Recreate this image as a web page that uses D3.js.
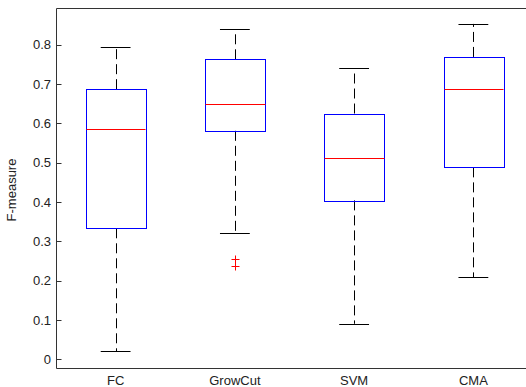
<!DOCTYPE html>
<html>
<head>
<meta charset="utf-8">
<script src="https://cdn.jsdelivr.net/npm/d3@7"></script>
<style>
  body { margin: 0; background: #fff; }
  text { font-family: "Liberation Sans", Arial, sans-serif; font-size: 13px; fill: #222; }
</style>
</head>
<body>
<svg id="chart" width="526" height="387"></svg>
<script>
// box plot of F-measure per method
var methods = ["FC", "GrowCut", "SVM", "CMA"]
var lowerWhisker = [0.020, 0.321, 0.090, 0.209]
var q1 = [0.333, 0.581, 0.404, 0.488]
var median = [0.586, 0.650, 0.513, 0.687]
var q3 = [0.687, 0.763, 0.625, 0.769]
var upperWhisker = [0.794, 0.839, 0.740, 0.853]
var outliers = [[], [0.255, 0.237], [], []]
var yTicks = [0, 0.1, 0.2, 0.3, 0.4, 0.5, 0.6, 0.7, 0.8]

var dimensions = {
    left: 56,
    right: 533,   // axes run off the right side of the picture
    top: 8,
    bottom: 368
}

var svg = d3.select("#chart")

var xScale = d3.scaleLinear()
    .domain([0.5, 4.5])
    .range([dimensions.left, dimensions.right])

var yScale = d3.scaleLinear()
    .domain([-0.0225, 0.8935])
    .range([dimensions.bottom, dimensions.top])

var boxHalf = (xScale(1.25) - xScale(1))
var capHalf = boxHalf / 2

var data = methods.map(function(m, i) {
    return {
        name: m, pos: i + 1,
        lo: lowerWhisker[i], q1: q1[i], med: median[i], q3: q3[i], hi: upperWhisker[i],
        out: outliers[i]
    }
})

var px = v => Math.round(v) + 0.5

// axes frame
var axisColor = "#333"
svg.append("line")
    .attr("x1", px(dimensions.left)).attr("x2", px(dimensions.left))
    .attr("y1", px(dimensions.top)).attr("y2", px(dimensions.bottom))
    .attr("stroke", axisColor)
svg.append("line")
    .attr("x1", px(dimensions.left)).attr("x2", dimensions.right)
    .attr("y1", px(dimensions.top)).attr("y2", px(dimensions.top))
    .attr("stroke", axisColor)
svg.append("line")
    .attr("x1", px(dimensions.left)).attr("x2", dimensions.right)
    .attr("y1", px(dimensions.bottom)).attr("y2", px(dimensions.bottom))
    .attr("stroke", axisColor)

// y ticks, pointing inwards like matlab
var yAxis = svg.append("g")
yAxis.selectAll("line")
    .data(yTicks)
    .enter().append("line")
    .attr("x1", px(dimensions.left)).attr("x2", px(dimensions.left) + 5)
    .attr("y1", d => px(yScale(d))).attr("y2", d => px(yScale(d)))
    .attr("stroke", axisColor)
yAxis.selectAll("text")
    .data(yTicks)
    .enter().append("text")
    .attr("x", 51)
    .attr("y", d => yScale(d))
    .attr("dy", "0.36em")
    .attr("text-anchor", "end")
    .text(d => d3.format("")(d))

svg.append("text")
    .attr("transform", "translate(16," + 190 + ") rotate(-90)")
    .attr("text-anchor", "middle")
    .text("F-measure")

// category labels
svg.selectAll(".xlab")
    .data(data)
    .enter().append("text")
    .attr("class", "xlab")
    .attr("x", d => xScale(d.pos))
    .attr("y", 385)
    .attr("text-anchor", "middle")
    .text(d => d.name)

var boxes = svg.selectAll(".box")
    .data(data)
    .enter().append("g")
    .attr("class", "box")

// whiskers
boxes.append("line")
    .attr("x1", d => px(xScale(d.pos))).attr("x2", d => px(xScale(d.pos)))
    .attr("y1", d => yScale(d.q3)).attr("y2", d => yScale(d.hi))
    .attr("stroke", "#000").attr("stroke-dasharray", "10,5")
boxes.append("line")
    .attr("x1", d => px(xScale(d.pos))).attr("x2", d => px(xScale(d.pos)))
    .attr("y1", d => yScale(d.q1)).attr("y2", d => yScale(d.lo))
    .attr("stroke", "#000").attr("stroke-dasharray", "10,5")

// caps
boxes.append("line")
    .attr("x1", d => xScale(d.pos) - capHalf).attr("x2", d => xScale(d.pos) + capHalf)
    .attr("y1", d => px(yScale(d.hi))).attr("y2", d => px(yScale(d.hi)))
    .attr("stroke", "#000")
boxes.append("line")
    .attr("x1", d => xScale(d.pos) - capHalf).attr("x2", d => xScale(d.pos) + capHalf)
    .attr("y1", d => px(yScale(d.lo))).attr("y2", d => px(yScale(d.lo)))
    .attr("stroke", "#000")

// box
boxes.append("rect")
    .attr("x", d => px(xScale(d.pos) - boxHalf))
    .attr("y", d => px(yScale(d.q3)))
    .attr("width", d => Math.round(2 * boxHalf))
    .attr("height", d => Math.round(yScale(d.q1) - yScale(d.q3)))
    .attr("fill", "none")
    .attr("stroke", "#0000ff")

// median
boxes.append("line")
    .attr("x1", d => px(xScale(d.pos) - boxHalf)).attr("x2", d => px(xScale(d.pos) + boxHalf))
    .attr("y1", d => px(yScale(d.med))).attr("y2", d => px(yScale(d.med)))
    .attr("stroke", "#ff0000")

// outliers as red plus signs
boxes.selectAll(".out")
    .data(d => d.out.map(v => ({ pos: d.pos, v: v })))
    .enter().append("path")
    .attr("class", "out")
    .attr("d", d => {
        var x = px(xScale(d.pos)), y = px(yScale(d.v))
        return "M" + (x - 4) + "," + y + "H" + (x + 4) + "M" + x + "," + (y - 4) + "V" + (y + 4)
    })
    .attr("stroke", "#ff0000")
    .attr("fill", "none")
</script>
</body>
</html>
